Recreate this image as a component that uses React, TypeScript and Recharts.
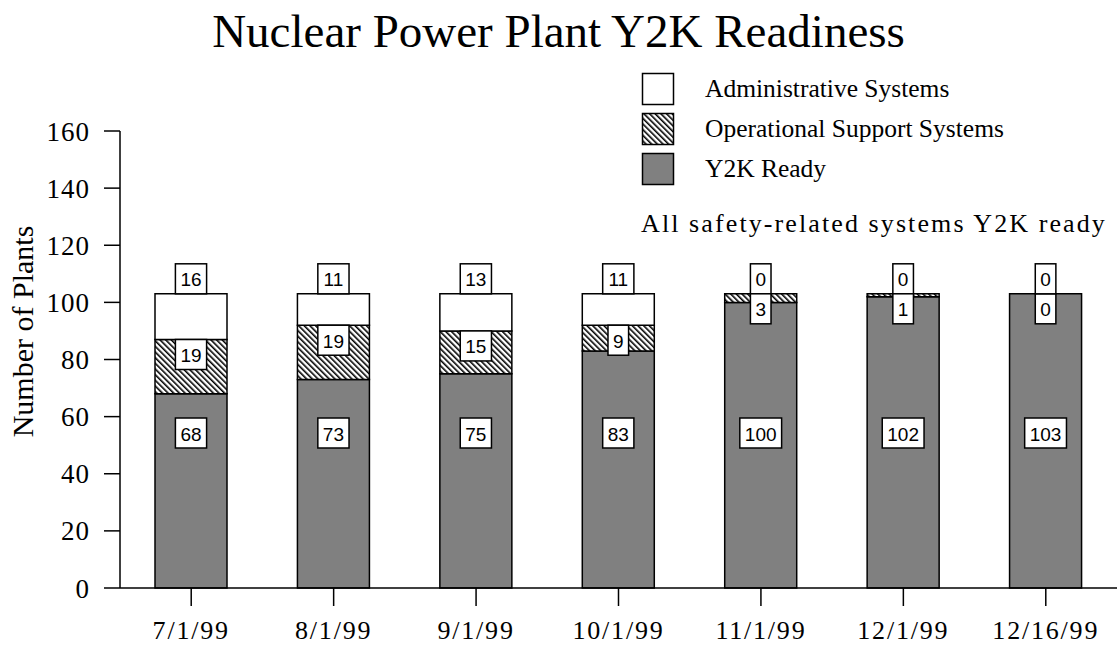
import { BarChart, Bar, XAxis, YAxis, LabelList, Legend, Label } from "recharts";

const dates = ["7/1/99", "8/1/99", "9/1/99", "10/1/99", "11/1/99", "12/1/99", "12/16/99"];
const y2kReady = [68, 73, 75, 83, 100, 102, 103];
const operational = [19, 19, 15, 9, 3, 1, 0];
const administrative = [16, 11, 13, 11, 0, 0, 0];
const yTicks = [0, 20, 40, 60, 80, 100, 120, 140, 160];

const seriesNames = ["Administrative Systems", "Operational Support Systems", "Y2K Ready"];

const data = dates.map((date, i) => ({
    date,
    ready: y2kReady[i],
    ops: operational[i],
    admin: administrative[i],
}));

const SERIF = "'Liberation Serif', 'Times New Roman', serif";
const SANS = "'Liberation Sans', Arial, sans-serif";
const GRAY = "#808080";
const BOX_H = 30;

function CountBox({ cx, top, value }: { cx: number; top: number; value: number }) {
    const text = String(value);
    const w = text.length * 10.6 + 10;
    return (
        <g>
            <rect x={cx - w / 2} y={top} width={w} height={BOX_H} fill="#fff" stroke="#000" strokeWidth={1.5} />
            <text
                x={cx}
                y={top + BOX_H / 2 + 1}
                textAnchor="middle"
                dominantBaseline="central"
                fontFamily={SANS}
                fontSize={19}
                fill="#000"
            >
                {text}
            </text>
        </g>
    );
}

// admin boxes sit on top of the bar, ops boxes hang from the top of their segment
function segmentLabel(mode: "top" | "hang") {
    return (props: any) => {
        const { x, y, width, value } = props;
        if (!value) return null; // zero segments have no rect, the ready bar draws those
        const top = mode === "top" ? y - BOX_H : y;
        return <CountBox cx={x + width / 2} top={top} value={value} />;
    };
}

// ready label sits at a fixed height; also draws the boxes for empty segments
function readyLabel(props: any) {
    const { x, y, width, height, value, index } = props;
    const cx = x + width / 2;
    const ppu = height / value;
    const ops = operational[index];
    const admin = administrative[index];
    return (
        <g>
            <CountBox cx={cx} top={y + height - 155 - BOX_H / 2} value={value} />
            {ops === 0 && <CountBox cx={cx} top={y} value={0} />}
            {admin === 0 && <CountBox cx={cx} top={y - (ops + admin) * ppu - BOX_H} value={0} />}
        </g>
    );
}

function HatchPattern({ id }: { id: string }) {
    return (
        <pattern id={id} width={4} height={4} patternUnits="userSpaceOnUse" patternTransform="rotate(-45)">
            <rect width={4} height={4} fill="#fff" />
            <line x1={0.8} y1={0} x2={0.8} y2={4} stroke="#000" strokeWidth={1.6} />
        </pattern>
    );
}

function LegendBox({ kind }: { kind: string }) {
    const fill = kind === "admin" ? "#fff" : kind === "ops" ? "url(#hatchLegend)" : GRAY;
    return (
        <svg width={34} height={34} style={{ display: "block" }}>
            <defs>
                <HatchPattern id="hatchLegend" />
            </defs>
            <rect x={1.5} y={1.5} width={31} height={31} fill={fill} stroke="#000" strokeWidth={1.5} />
        </svg>
    );
}

function LegendContent() {
    const kinds = ["admin", "ops", "ready"];
    return (
        <div style={{ fontFamily: SERIF, color: "#000" }}>
            {kinds.map((k, i) => (
                <div key={k} style={{ display: "flex", alignItems: "center", height: 40 }}>
                    <LegendBox kind={k} />
                    <span style={{ marginLeft: 30, fontSize: 25.5 }}>{seriesNames[i]}</span>
                </div>
            ))}
            <div style={{ fontSize: 26, letterSpacing: 2.1, marginTop: 20, whiteSpace: "nowrap" }}>
                All safety-related systems Y2K ready
            </div>
        </div>
    );
}

function AxisTitle(props: any) {
    const vb = props.viewBox;
    const cy = vb.y + vb.height / 2 - 28;
    return (
        <text
            x={22}
            y={cy}
            transform={`rotate(-90, 22, ${cy})`}
            textAnchor="middle"
            dominantBaseline="central"
            fontFamily={SERIF}
            fontSize={30}
            fill="#000"
        >
            Number of Plants
        </text>
    );
}

export default function App() {
    return (
        <div style={{ position: "absolute", left: 0, top: 0, width: 1117, height: 647, background: "#fff" }}>
            <div
                style={{
                    position: "absolute",
                    left: 0,
                    top: 4,
                    width: 1117,
                    textAlign: "center",
                    fontFamily: SERIF,
                    fontSize: 47,
                    color: "#000",
                    zIndex: 1,
                }}
            >
                Nuclear Power Plant Y2K Readiness
            </div>
            <BarChart width={1117} height={647} data={data} margin={{ top: 131, right: 0, left: 0, bottom: 0 }}>
                <defs>
                    <HatchPattern id="hatch" />
                </defs>
                <XAxis
                    dataKey="date"
                    height={59}
                    interval={0}
                    tickSize={18}
                    tickMargin={15}
                    axisLine={{ stroke: "#000", strokeWidth: 1.5 }}
                    tickLine={{ stroke: "#000", strokeWidth: 1.5 }}
                    tick={{ fill: "#000", fontSize: 26, fontFamily: SERIF, letterSpacing: 1.8 }}
                />
                <YAxis
                    width={120}
                    domain={[0, 160]}
                    ticks={yTicks}
                    tickSize={16}
                    tickMargin={14}
                    axisLine={{ stroke: "#000", strokeWidth: 1.5 }}
                    tickLine={{ stroke: "#000", strokeWidth: 1.5 }}
                    tick={{ fill: "#000", fontSize: 27, fontFamily: SERIF, letterSpacing: 1 }}
                >
                    <Label content={AxisTitle} />
                </YAxis>
                <Legend
                    layout="vertical"
                    align="center"
                    verticalAlign="middle"
                    wrapperStyle={{ left: 641, top: 69, width: 476 }}
                    content={() => <LegendContent />}
                />
                <Bar dataKey="ready" name="Y2K Ready" stackId="a" fill={GRAY} stroke="#000" strokeWidth={1.5} barSize={72} isAnimationActive={false}>
                    <LabelList dataKey="ready" content={readyLabel} />
                </Bar>
                <Bar dataKey="ops" name="Operational Support Systems" stackId="a" fill="url(#hatch)" stroke="#000" strokeWidth={1.5} barSize={72} isAnimationActive={false}>
                    <LabelList dataKey="ops" content={segmentLabel("hang")} />
                </Bar>
                <Bar dataKey="admin" name="Administrative Systems" stackId="a" fill="#fff" stroke="#000" strokeWidth={1.5} barSize={72} isAnimationActive={false}>
                    <LabelList dataKey="admin" content={segmentLabel("top")} />
                </Bar>
            </BarChart>
        </div>
    );
}
